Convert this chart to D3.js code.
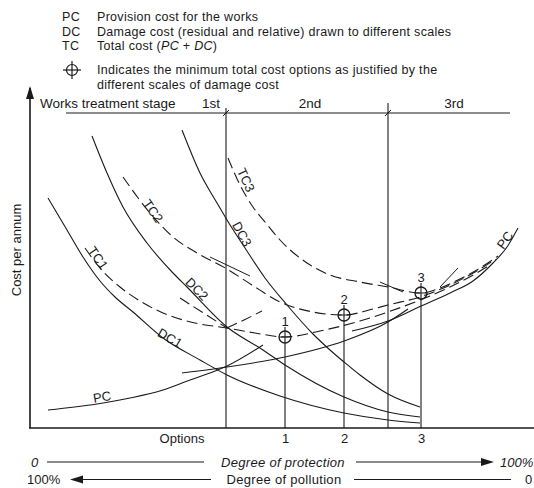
<!DOCTYPE html>
<html><head><meta charset="utf-8">
<script src="https://cdn.jsdelivr.net/npm/d3@7"></script>
<style>
html,body{margin:0;padding:0;background:#fff;}
svg{display:block;font-family:"Liberation Sans",Arial,Helvetica,sans-serif;}
</style></head><body>
<svg id="chart" width="534" height="488"></svg>
<script>
// ---------------- data ----------------
const legendCodes = ["PC", "DC", "TC"];
const legendTexts = ["Provision cost for the works",
  "Damage cost (residual and relative) drawn to different scales",
  "Total cost (PC + DC)"];
const legendSymbolText = ["Indicates the minimum total cost options as justified by the",
  "different scales of damage cost"];
const stageTitle = "Works treatment stage";
const stageLabels = ["1st", "2nd", "3rd"];
const stageBounds = [39.2, 71.6];          // degree of protection (%)
const optionLabels = ["1", "2", "3"];
const optionX = [51, 62.8, 78.2];          // degree of protection (%)
const optionMinCost = [45.5, 56.5, 67.5];  // minimum total cost
const yAxisTitle = "Cost per annum";
const xAxisTitle = "Options";

// cost curves: [degree of protection %, cost]
const pcStage1 = [[3.6,9],[13.4,12],[20,15],[26.6,19],[32,24],[37,28.5],[39.4,31],[46.6,41.5]];
const pcStage2 = [[30.4,27.5],[39.4,30.5],[51,35.5],[62.8,43.5],[71.6,53],[75.6,59.5]];
const pcStage3 = [[64.4,48.5],[71.6,53.5],[78.2,61],[84,67.5],[88.6,73.5],[92.6,82.5],[95.4,90.5],[97.6,100]];
const dc1 = [[3.6,115],[7.4,99],[10.6,85.5],[14,73.5],[17,65.5],[20.6,58],[26.6,45],[34,34],[39.4,26.5],[50,16],[62.8,7.5],[71.6,4],[78,2.5]];
const dc2 = [[12.4,146],[15.4,127.5],[18.6,110.5],[23.4,92.5],[28.6,77.5],[31.4,70.5],[39.4,50.5],[46.6,39],[51,31.5],[62.8,15.5],[71.6,8],[78,5.5]];
const dc3 = [[30.4,149],[34,127.5],[37.4,112.5],[39.4,104],[43,90],[47,75],[51.4,61.5],[56.6,47],[60,39],[62.8,33],[66,26.5],[71.6,17],[78,10.5]];
const tc1 = [[11,90],[14,80],[18,70.5],[22,63.5],[26.6,57.5],[33,52.5],[39.4,50],[45,47.5],[51,45.5],[58,48.5],[66,53.5],[71.6,58],[78,64],[84,70.5],[89,77],[92,81.5]];
const tc1Stage1End = [[39.4,50],[42.8,54],[46.4,58.5]];
const tc1Stage2Start = [[30,65],[35,57],[39.4,50]];
const tc2 = [[18.6,125.5],[24,107.5],[28.6,95.5],[33.4,87.5],[39.4,79.5],[44.4,71.5],[50,63],[56.6,58],[62.8,56.5],[68.6,59.5],[71.6,61.5],[78,65.5],[84,71.5],[89,78],[93.2,84.5]];
const tc3 = [[39.6,135],[42,121.5],[44.6,110.5],[47,103],[50,94],[55.4,82.5],[60,76.5],[66,73],[71.6,70.5],[78.2,67.5],[82,70],[86,74.5],[90,80],[93.6,86]];
const junctionTicks = [
  [[36,85.5],[44,76]],
  [[70,73],[74.6,68]],
  [[82,70.5],[85.6,80]]
];
const curveLabels = [
  {t:"TC1", p:[13.6,85], a:55},
  {t:"TC2", p:[24.6,108.5], a:55},
  {t:"TC3", p:[43.2,124], a:65},
  {t:"DC1", p:[28,45], a:30},
  {t:"DC2", p:[33.4,69.5], a:45},
  {t:"DC3", p:[42.4,97], a:62},
  {t:"PC",  p:[14.4,15.5], a:-10},
  {t:"PC",  p:[95,94], a:-55}
];

// ---------------- drawing ----------------
const svg = d3.select("#chart");
const ink = "#1a1a1a";
const FS = 13;
const x = d3.scaleLinear().domain([0, 100]).range([30, 530]);
const y = d3.scaleLinear().domain([0, 170]).range([428, 88]);
const line = d3.line().x(d => x(d[0])).y(d => y(d[1])).curve(d3.curveMonotoneX);

// legend
const lg = svg.append("g").attr("font-size", 12.5).attr("fill", ink).attr("letter-spacing", 0.3);
const legY = [17, 31.5, 46];
legendCodes.forEach((c, i) => {
  lg.append("text").attr("x", 62).attr("y", legY[i]).attr("dy", "0.35em").text(c);
});
lg.append("text").attr("x", 97).attr("y", legY[0]).attr("dy", "0.35em").text(legendTexts[0]);
lg.append("text").attr("x", 97).attr("y", legY[1]).attr("dy", "0.35em").text(legendTexts[1]);
const tcText = lg.append("text").attr("x", 97).attr("y", legY[2]).attr("dy", "0.35em");
tcText.append("tspan").text("Total cost (");
tcText.append("tspan").attr("font-style", "italic").text("PC");
tcText.append("tspan").text(" + ");
tcText.append("tspan").attr("font-style", "italic").text("DC");
tcText.append("tspan").text(")");
const symY = 70, symX = 72;
lg.append("circle").attr("cx", symX).attr("cy", symY).attr("r", 5.5).attr("fill", "none").attr("stroke", ink).attr("stroke-width", 1.2);
lg.append("line").attr("x1", symX - 9).attr("x2", symX + 9).attr("y1", symY).attr("y2", symY).attr("stroke", ink).attr("stroke-width", 1.2);
lg.append("line").attr("x1", symX).attr("x2", symX).attr("y1", symY - 9).attr("y2", symY + 9).attr("stroke", ink).attr("stroke-width", 1.2);
lg.append("text").attr("x", 97).attr("y", symY - 0.5).attr("dy", "0.35em").text(legendSymbolText[0]);
lg.append("text").attr("x", 97).attr("y", symY + 14.5).attr("dy", "0.35em").text(legendSymbolText[1]);

// axes
svg.append("line").attr("x1", x(0)).attr("x2", x(0)).attr("y1", y(0)).attr("y2", y(170))
  .attr("stroke", ink).attr("stroke-width", 1.6);
svg.append("path").attr("d", `M${x(0)},${y(170) - 2} L${x(0) - 4},${y(170) + 11} L${x(0) + 4},${y(170) + 11} Z`).attr("fill", ink);
svg.append("line").attr("x1", x(0) - 1).attr("x2", 534).attr("y1", y(0)).attr("y2", y(0))
  .attr("stroke", ink).attr("stroke-width", 1.6);

const xAxis = d3.axisBottom(x).tickValues(optionX).tickFormat((d, i) => optionLabels[i]).tickSize(0).tickPadding(6);
const gx = svg.append("g").attr("transform", `translate(0,${y(0)})`).call(xAxis);
gx.select(".domain").remove();
gx.selectAll("text").attr("font-size", FS).attr("fill", ink).attr("font-family", "Liberation Sans, Arial, sans-serif");

svg.append("text").attr("x", 182).attr("y", 438).attr("dy", "0.35em").attr("text-anchor", "middle")
  .attr("font-size", FS).attr("fill", ink).text(xAxisTitle);
svg.append("text").attr("transform", "translate(16,250) rotate(-90)").attr("text-anchor", "middle").attr("dy", "0.35em")
  .attr("font-size", FS).attr("fill", ink).text(yAxisTitle);

// stage header
const headY = y(157.5);
svg.append("line").attr("x1", 66).attr("x2", 510).attr("y1", headY).attr("y2", headY).attr("stroke", ink).attr("stroke-width", 1);
svg.append("text").attr("x", 40).attr("y", headY - 10).attr("dy", "0.35em").attr("font-size", 13.5).attr("fill", ink).text(stageTitle);
const stageTops = [108, 103];
stageBounds.forEach((b, i) => {
  svg.append("line").attr("x1", x(b)).attr("x2", x(b)).attr("y1", stageTops[i]).attr("y2", y(0)).attr("stroke", ink).attr("stroke-width", 1.1);
  svg.append("line").attr("x1", x(b) - 3).attr("x2", x(b) + 3).attr("y1", headY + 3).attr("y2", headY - 3).attr("stroke", ink).attr("stroke-width", 1);
});
const stageCenters = [x(stageBounds[0]) - 15, (x(stageBounds[0]) + x(stageBounds[1])) / 2 + 3, (x(stageBounds[1]) + 520) / 2];
stageLabels.forEach((s, i) => {
  svg.append("text").attr("x", stageCenters[i]).attr("y", headY - 10).attr("dy", "0.35em").attr("text-anchor", "middle")
    .attr("font-size", 13.5).attr("fill", ink).text(s);
});

// curves
const solid = [pcStage1, pcStage2, pcStage3, dc1, dc2, dc3];
solid.forEach(c => svg.append("path").attr("d", line(c)).attr("fill", "none").attr("stroke", ink).attr("stroke-width", 1.1));
const dashed = [tc1, tc1Stage1End, tc1Stage2Start, tc2, tc3];
dashed.forEach(c => svg.append("path").attr("d", line(c)).attr("fill", "none").attr("stroke", ink).attr("stroke-width", 1.1).attr("stroke-dasharray", "11,5"));
junctionTicks.forEach(c => svg.append("path").attr("d", d3.line().x(d => x(d[0])).y(d => y(d[1]))(c)).attr("fill", "none").attr("stroke", ink).attr("stroke-width", 1));

// curve labels
curveLabels.forEach(l => {
  svg.append("text").attr("transform", `translate(${x(l.p[0])},${y(l.p[1])}) rotate(${l.a})`)
    .attr("text-anchor", "middle").attr("dy", "0.35em").attr("font-size", FS).attr("fill", ink).text(l.t);
});

// options
optionX.forEach((ox, i) => {
  const cx = x(ox), cy = y(optionMinCost[i]);
  svg.append("line").attr("x1", cx).attr("x2", cx).attr("y1", cy - 10).attr("y2", y(0)).attr("stroke", ink).attr("stroke-width", 1.1);
  svg.append("circle").attr("cx", cx).attr("cy", cy).attr("r", 6).attr("fill", "none").attr("stroke", ink).attr("stroke-width", 1.3);
  svg.append("line").attr("x1", cx - 6).attr("x2", cx + 6).attr("y1", cy).attr("y2", cy).attr("stroke", ink).attr("stroke-width", 1);
  svg.append("text").attr("x", cx).attr("y", cy - 16).attr("dy", "0.35em").attr("text-anchor", "middle")
    .attr("font-size", FS).attr("fill", ink).text(optionLabels[i]);
});

// bottom scales
const r1 = 462, r2 = 479.5;
const bt = svg.append("g").attr("font-size", 13).attr("fill", ink);
bt.append("text").attr("x", 31).attr("y", r1).attr("dy", "0.35em").attr("font-style", "italic").text("0");
bt.append("line").attr("x1", 47).attr("x2", 204).attr("y1", r1).attr("y2", r1).attr("stroke", ink).attr("stroke-width", 1.2);
bt.append("text").attr("x", 283).attr("y", r1).attr("dy", "0.35em").attr("text-anchor", "middle").attr("font-style", "italic").attr("letter-spacing", 0.3).text("Degree of protection");
bt.append("line").attr("x1", 356).attr("x2", 484).attr("y1", r1).attr("y2", r1).attr("stroke", ink).attr("stroke-width", 1.2);
bt.append("path").attr("d", `M494,${r1} L481,${r1 - 4} L481,${r1 + 4} Z`).attr("fill", ink);
bt.append("text").attr("x", 500).attr("y", r1).attr("dy", "0.35em").attr("font-style", "italic").text("100%");
bt.append("text").attr("x", 27).attr("y", r2).attr("dy", "0.35em").text("100%");
bt.append("path").attr("d", `M70,${r2} L83,${r2 - 4} L83,${r2 + 4} Z`).attr("fill", ink);
bt.append("line").attr("x1", 80).attr("x2", 211).attr("y1", r2).attr("y2", r2).attr("stroke", ink).attr("stroke-width", 1.2);
bt.append("text").attr("x", 284).attr("y", r2).attr("dy", "0.35em").attr("text-anchor", "middle").attr("letter-spacing", 0.3).text("Degree of pollution");
bt.append("line").attr("x1", 354).attr("x2", 511).attr("y1", r2).attr("y2", r2).attr("stroke", ink).attr("stroke-width", 1.2);
bt.append("text").attr("x", 525).attr("y", r2).attr("dy", "0.35em").text("0");
</script>
</body></html>
